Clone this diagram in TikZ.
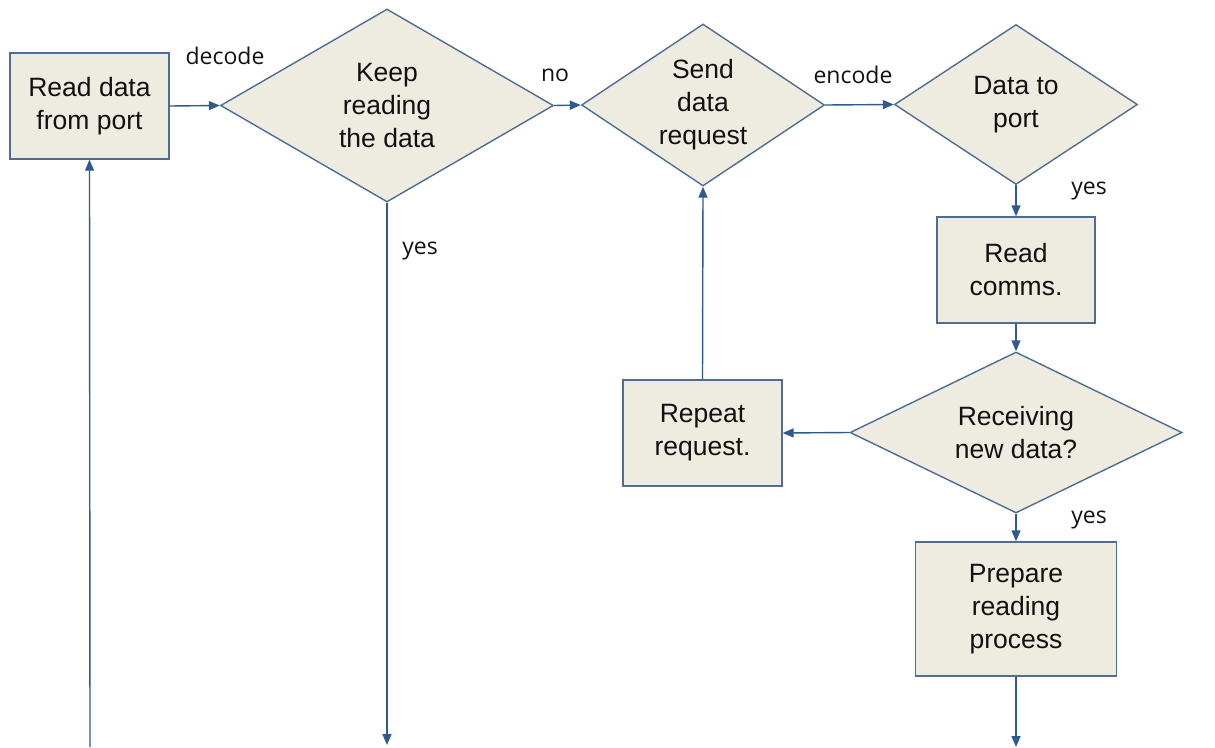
\documentclass[tikz,border=0pt]{standalone}
\usepackage{fontspec}
\setmainfont{Liberation Sans}
\newfontfamily\labelfont{Open Sans}
\usetikzlibrary{shapes.geometric,arrows.meta}
\definecolor{boxfill}{HTML}{EEECE1}
\definecolor{boxline}{HTML}{4F6D92}
\definecolor{arrowcol}{HTML}{2F5A8E}
\definecolor{txt}{HTML}{111111}
\tikzset{
  procbox/.style={draw=boxline, fill=boxfill, line width=1.4pt, rectangle, inner sep=0pt,
    align=center, text=txt, font=\fontsize{26.5}{33}\selectfont},
  decbox/.style={draw=boxline, fill=boxfill, line width=1.4pt, diamond, inner sep=-30pt,
    align=center, text=txt, font=\fontsize{26.5}{33}\selectfont},
  flow/.style={draw=arrowcol, line width=1.4pt, -{Triangle[length=11pt,width=9pt]}},
  lbl/.style={font=\labelfont\fontsize{23}{27}\selectfont, text=txt, inner sep=0pt},
}
\begin{document}
\begin{tikzpicture}[x=1pt,y=-1pt]
\useasboundingbox (0,0) rectangle (1215,747);
\node[procbox, minimum width=159pt, minimum height=106pt] (read) at (89.5,106) {Read data\\from port};
\node[decbox, minimum width=333pt, minimum height=193pt] (keep) at (387,105.5) {Keep\\reading\\the data};
\node[decbox, minimum width=243pt, minimum height=162pt] (send) at (703,105) {Send\\data\\request};
\node[decbox, minimum width=243pt, minimum height=160pt] (dport) at (1016,104.5) {Data to\\port};
\node[procbox, minimum width=158pt, minimum height=106pt] (comms) at (1016,270) {Read\\comms.};
\node[decbox, minimum width=332pt, minimum height=161pt] (recv) at (1016,432.5) {Receiving\\new data?};
\node[procbox, minimum width=159pt, minimum height=106pt] (repeat) at (702.5,433) {Repeat\\request.};
\node[procbox, minimum width=201pt, minimum height=134pt] (prep) at (1016,609) {Prepare\\reading\\process};

\coordinate (lb) at (90,747);
\coordinate (kb) at (387,745);
\coordinate (pb) at (1016,747);

\draw[flow] (read.east) -- (keep.west);
\draw[flow] (keep.east) -- (send.west);
\draw[flow] (send.east) -- (dport.west);
\draw[flow] (dport.south) -- (comms.north);
\draw[flow] (comms.south) -- (recv.north);
\draw[flow] (recv.west) -- (repeat.east);
\draw[flow] (repeat.north) -- (send.south);
\draw[flow] (recv.south) -- (prep.north);
\draw[flow] (prep.south) -- (pb);
\draw[flow] (keep.south) -- (kb);
\draw[flow] (lb) -- (read.south);

\node[lbl] (ldecode) at (225,56) {decode};
\node[lbl] (lno) at (555,75) {no};
\node[lbl] (lencode) at (853,75) {encode};
\node[lbl] (lyes1) at (420,251) {yes};
\node[lbl] (lyes2) at (1089,191) {yes};
\node[lbl] (lyes3) at (1089,520) {yes};
\end{tikzpicture}
\end{document}
